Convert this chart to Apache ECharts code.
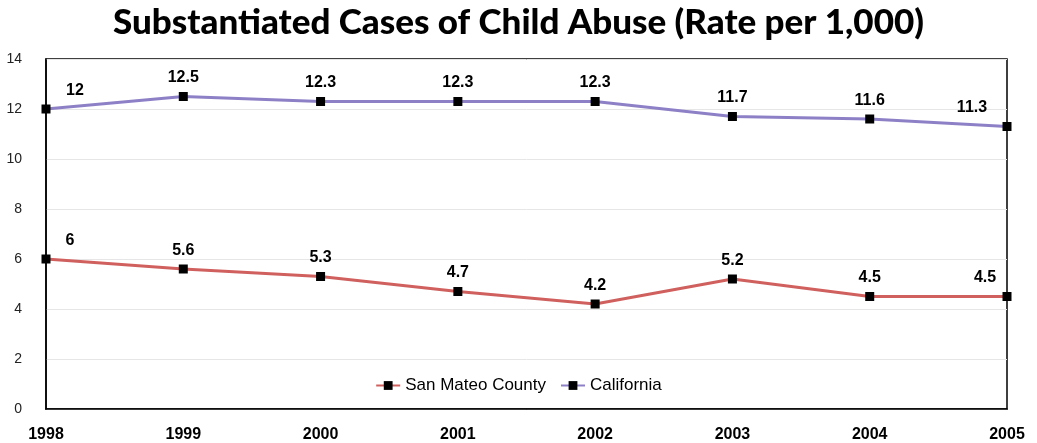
<!DOCTYPE html>
<html>
<head>
<meta charset="utf-8">
<script src="https://cdn.jsdelivr.net/npm/echarts@6/dist/echarts.min.js"></script>
<style>
    html, body { margin: 0; padding: 0; background: #fff; }
    #chart { width: 1037px; height: 443px; }
</style>
</head>
<body>
<div id="chart"></div>
<script>
// 数据
var years = ["1998", "1999", "2000", "2001", "2002", "2003", "2004", "2005"];
var sanMateo = [6, 5.6, 5.3, 4.7, 4.2, 5.2, 4.5, 4.5];
var california = [12, 12.5, 12.3, 12.3, 12.3, 11.7, 11.6, 11.3];
var yTicks = [0, 2, 4, 6, 8, 10, 12, 14];

(function () {
    var myChart = echarts.init(document.getElementById("chart"));

    // 首尾两个点的标签往里挪一点
    function withLabels(values, firstX, lastX) {
        return values.map(function (v, i) {
            var item = { value: v };
            if (i === 0) item.label = { offset: [firstX, 0] };
            if (i === values.length - 1) item.label = { offset: [lastX, 0] };
            return item;
        });
    }

    var labelStyle = {
        show: true,
        position: "top",
        distance: 6,
        color: "#000",
        fontWeight: "bold",
        fontSize: 16,
        fontFamily: "Liberation Sans Narrow, Arial, sans-serif"
    };

    var option = {
        title: {
            text: "Substantiated Cases of Child Abuse (Rate per 1,000)",
            left: "center",
            top: 0,
            textStyle: {
                fontFamily: "Lato, sans-serif",
                fontWeight: 900,
                fontSize: 35,
                color: "#000"
            }
        },
        legend: {
            bottom: 44,
            left: "center",
            itemWidth: 24,
            itemHeight: 11,
            itemGap: 14,
            textStyle: {
                fontSize: 17,
                color: "#000",
                fontFamily: "Arial, Liberation Sans, sans-serif"
            },
            data: ["San Mateo County", "California"]
        },
        grid: {
            left: 46,
            right: 30,
            top: 59,
            bottom: 33,
            show: true,
            borderColor: "#000",
            borderWidth: 1.5
        },
        xAxis: {
            type: "category",
            boundaryGap: false,
            data: years,
            axisLine: { lineStyle: { color: "#000", width: 1.5 } },
            axisTick: { show: false },
            axisLabel: {
                color: "#000",
                fontWeight: "bold",
                fontSize: 16,
                margin: 18,
                fontFamily: "Liberation Sans Narrow, Arial, sans-serif"
            }
        },
        yAxis: {
            type: "value",
            min: yTicks[0],
            max: yTicks[yTicks.length - 1],
            interval: 2,
            axisLine: { show: true, lineStyle: { color: "#000", width: 1.5 } },
            axisTick: { show: false },
            splitLine: { lineStyle: { color: "#e6e6e6" } },
            axisLabel: {
                color: "#222",
                fontSize: 14,
                margin: 24,
                fontFamily: "Liberation Sans Narrow, Arial, sans-serif"
            }
        },
        series: [
            {
                name: "San Mateo County",
                type: "line",
                data: withLabels(sanMateo, 24, -22),
                symbol: "rect",
                symbolSize: 9,
                lineStyle: { color: "#d0605e", width: 3 },
                itemStyle: { color: "#000" },
                label: labelStyle
            },
            {
                name: "California",
                type: "line",
                data: withLabels(california, 29, -35),
                symbol: "rect",
                symbolSize: 9,
                lineStyle: { color: "#8e80c6", width: 3 },
                itemStyle: { color: "#000" },
                label: labelStyle
            }
        ]
    };
    myChart.setOption(option);
})();
</script>
</body>
</html>
